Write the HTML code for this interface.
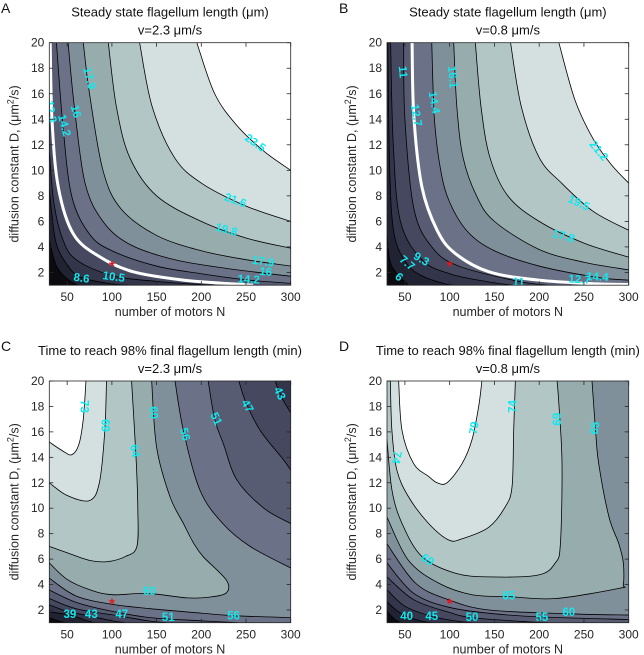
<!DOCTYPE html>
<html><head><meta charset="utf-8"><style>
html,body{margin:0;padding:0;background:#fff;}
svg{display:block;font-family:"Liberation Sans",Arial,sans-serif;}
</style></head><body>
<svg id="fig" width="644" height="655" viewBox="0 0 644 655"></svg>
<script>
// ---------- data ----------
const xTicks = [50,100,150,200,250,300];
const yTicks = [2,4,6,8,10,12,14,16,18,20];
const palette = ['#0b0b10','#212232','#33354a','#45485f','#575c73','#6b7288','#80909a','#97acad','#b2c6c6','#d4e0e0','#ffffff'];

const levelsA = [6.7,8.6,10.5,12.3,14.2,16,17.9,19.8,21.6,23.5];
const curvesA = [
 [[[30,4.5],[38,2.5],[50,1.5],[62,1]]],
 [[[30,8.5],[37,4.5],[50,2.6],[66,1.6],[100,1.1],[120,1]]],
 [[[30,11.5],[35,7.5],[45,4.6],[60,3],[100,1.75],[150,1.3],[200,1.05],[215,1]]],
 [[[31,20],[33,14],[40,8.7],[57,5],[87,3.2],[124,2.05],[180,1.4],[236,1.1],[258,1]]],
 [[[38,20],[45,13.7],[55,8],[75,5],[100,3.7],[150,2.5],[200,1.9],[253,1.4],[300,1.15]]],
 [[[51,20],[58,15],[70,9],[90,6],[120,4.2],[170,3],[230,2.3],[300,1.7]]],
 [[[68,20],[75,16],[90,10],[110,7],[150,4.9],[200,3.7],[250,3.0],[300,2.5]]],
 [[[96,20],[105,15],[120,11],[150,8],[200,6],[250,4.7],[300,3.9]]],
 [[[131,20],[145,15],[170,11],[200,9],[250,7.2],[300,6]]],
 [[[195,20],[215,16],[240,13.5],[270,11.5],[300,10]]]
];
const whiteA = 3;
const labelsA = [['8.6',66,1.5,8],['10.5',102,1.6,8],['12.3',31,14.6,80],['14.2',46,13.5,75],['16',59,14.6,75],['17.9',74,17.2,75],['23.5',260,12.1,35],['21.6',238,7.6,20],['19.8',228,5.3,15],['17.9',269,2.8,8],['16',272,2.0,5],['14.2',253,1.4,3]];

const levelsB = [6,7.7,9.3,11,12.7,14.4,16.1,17.8,19.5,21.2];
const curvesB = [
 [[[30,5],[33,3],[40,2],[54,1]]],
 [[[31,20],[33,10],[38,5],[52,2.7],[70,1.7],[95,1.1],[105,1]]],
 [[[34,20],[37,12],[45,6],[69,3],[100,1.9],[140,1.3],[170,1]]],
 [[[48.6,20],[50,14],[60,7],[80,4],[110,2.5],[177,1.3],[210,1]]],
 [[[58,20],[60,14.2],[69,8.7],[86,5.3],[106,3.5],[144,2.05],[199,1.4],[266,1.1],[300,1.05]]],
 [[[80,20],[83,14],[90,10],[100,7.5],[120,5.2],[150,3.7],[200,2.5],[266,1.6],[300,1.4]]],
 [[[104.5,20],[108,15],[115,11],[130,8],[150,6],[200,3.8],[250,2.8],[300,2.2]]],
 [[[128.7,20],[135,15],[145,11],[165,8],[200,6],[250,4.3],[300,3.2]]],
 [[[168,20],[180,15],[200,11],[225,9],[260,6.8],[300,5.3]]],
 [[[222,20],[240,15.5],[260,12.5],[280,10.5],[300,9]]]
];
const whiteB = 4;
const labelsB = [['6',43,1.6,40],['7.7',52,2.7,40],['9.3',68,3.0,30],['11',47,17.7,85],['11',177,1.2,3],['12.7',62,14.3,80],['12.7',245,1.4,3],['14.4',82,15.3,80],['14.4',265,1.6,3],['16.1',102.6,17.3,85],['17.8',227,4.8,15],['19.5',244,7.4,25],['21.2',266,11.5,50]];

const levelsC = [35,39,43,47,51,56,60,64,69,73];
const curvesC = [
 [[[30,1.4],[40,1.15],[48,1]]],
 [[[30,1.85],[53,1.6],[70,1.2],[80,1]]],
 [[[30,2.4],[50,1.9],[77,1.5],[100,1.15],[115,1]],[[300,17.5],[290,18.7],[282.5,20]]],
 [[[30,2.9],[60,2.1],[111,1.5],[140,1.15],[160,1]],[[300,13],[292,13.8],[266,16.1],[250,18.3],[242,20]]],
 [[[30,3.57],[60,2.6],[100,1.9],[143,1.4],[200,1.15],[240,1]],[[300,8.8],[270,10],[240,12.2],[225,15],[215,17],[207.7,20]]],
 [[[30,4.5],[60,3.1],[100,2.45],[143,2.1],[200,1.75],[236,1.55],[300,1.4]],[[300,5.3],[254.5,7],[224,8.8],[198.6,11.4],[180,16.1],[170.6,20]]],
 [[[30,5.7],[50,4.4],[75,3.6],[100,3.2],[140,3.3],[184,2.95],[208,3.0],[228,3.35],[228,4.35],[202,6.2],[191,7.3],[180,8.8],[165,10.9],[150,14.8],[144.5,20]]],
 [[[30,7.0],[50,6.5],[75,5.9],[95,5.8],[115,6.2],[128,7],[129,10],[127,14],[122,20]]],
 [[[30,12],[50,11],[75,10.6],[86,12],[92,16],[94,20]]],
 [[[30,15.2],[45,14.5],[55,14.2],[63,15],[68,17],[71,20]]]
];
const labelsC = [['39',53,1.6,0],['43',77,1.6,0],['47',111,1.6,0],['51',163,1.35,0],['56',236,1.5,0],['60',142,3.4,0],['73',68,18,90],['69',92,16.5,90],['64',125,14.5,80],['60',146,17.5,85],['56',181,15.8,75],['51',216,17,65],['47',251,18,60],['43',287,19,65]];

const levelsD = [35,40,45,50,55,60,65,69,74,79];
const curvesD = [
 [[[30,1.9],[38,1.3],[45,1]]],
 [[[30,2.65],[40,2],[52,1.5],[70,1.1],[80,1]]],
 [[[30,3.6],[50,2.3],[80,1.5],[110,1.1],[125,1]]],
 [[[30,4.6],[60,2.8],[100,1.8],[125,1.4],[180,1.1],[210,1]]],
 [[[30,5.7],[60,3.3],[100,2.2],[150,1.7],[203,1.45],[300,1.25]]],
 [[[30,7.2],[62,4.1],[99,2.8],[144,2.0],[233,1.7],[300,1.6]]],
 [[[30,9.3],[54,5.9],[88,4.1],[125,3.2],[166,3.05],[218,2.9],[289,3.7],[294,4.0],[294,5.7],[289,7.2],[278,9.3],[266.5,13.5],[263,16.1],[259,20]]],
 [[[30,15.4],[35.6,11.4],[46.8,8.8],[69,6.2],[106,4.9],[144,4.6],[199,4.75],[218,5.7],[223.7,7.2],[225.5,13.5],[222,18.2],[220,20]]],
 [[[33.7,20],[35.5,16.1],[41,13],[54,10.9],[76.5,8.8],[99,7.5],[114,7.6],[143.6,8.5],[162,10.1],[169.7,11.7],[171.5,16.1],[173.4,20]]],
 [[[43,20],[46.8,16.1],[59.8,13.5],[76.5,12.5],[86,12],[97,12],[113.8,13.5],[125,15.4],[132.4,18],[136,20]]]
];
const labelsD = [['40',52,1.45,0],['45',80,1.45,0],['50',125,1.35,0],['55',203,1.35,0],['60',233,1.75,0],['65',166,3.05,0],['69',75,5.9,30],['74',40,14,100],['79',128,16.3,-80],['74',171.5,18,-90],['69',221,17,-90],['65',263,16.3,-80]];

// ---------- drawing ----------
const NS='http://www.w3.org/2000/svg';
const svg=document.getElementById('fig');
function mk(tag,attrs,parent){const e=document.createElementNS(NS,tag);for(const k in attrs)e.setAttribute(k,attrs[k]);(parent||svg).appendChild(e);return e;}

const N0=30,N1=300,D0=1,D1=20;
function tOf(p){const e=1e-6;
 if(Math.abs(p[1]-D0)<e) return (p[0]-N0)/(N1-N0);
 if(Math.abs(p[0]-N1)<e) return 1+(p[1]-D0)/(D1-D0);
 if(Math.abs(p[1]-D1)<e) return 2+(N1-p[0])/(N1-N0);
 return 3+(D1-p[1])/(D1-D0);}
const cornerPts={1:[N1,D0],2:[N1,D1],3:[N0,D1],0:[N0,D0]};
function walk(a,b){if(b<a)b+=4;const out=[];for(let c=1;c<8;c++){if(c>a&&c<b)out.push(cornerPts[c%4]);}return out;}

// Catmull-Rom smoothed path commands for screen points (excluding initial move)
function smoothCmds(P){
 let s='';
 for(let i=0;i<P.length-1;i++){
  const p0=P[Math.max(0,i-1)],p1=P[i],p2=P[i+1],p3=P[Math.min(P.length-1,i+2)];
  const c1=[p1[0]+(p2[0]-p0[0])/6,p1[1]+(p2[1]-p0[1])/6];
  const c2=[p2[0]-(p3[0]-p1[0])/6,p2[1]-(p3[1]-p1[1])/6];
  s+=' C'+c1[0].toFixed(2)+','+c1[1].toFixed(2)+' '+c2[0].toFixed(2)+','+c2[1].toFixed(2)+' '+p2[0].toFixed(2)+','+p2[1].toFixed(2);
 }
 return s;
}

function drawPanel(cfg){
 const {x0,y0,w,h,curves,levels,labels,white,id}=cfg;
 const sx=n=>x0+(n-N0)/(N1-N0)*w;
 const sy=d=>y0+h-(d-D0)/(D1-D0)*h;
 const scr=p=>[sx(p[0]),sy(p[1])];
 const g=mk('g',{});
 
 
 const cp=mk('clipPath',{id:'clip-'+id},g);
 mk('rect',{x:x0,y:y0,width:w,height:h},cp);
 const fillG=mk('g',{'clip-path':'url(#clip-'+id+')'},g);
 const bg=mk('rect',{x:x0,y:y0,width:w,height:h,fill:palette[0]},fillG);
 
 
 curves.forEach((segs,i)=>{
  let d='';
  segs.forEach((s,j)=>{
   const P=s.map(scr);
   d+=(j===0?'M':' L')+P[0][0].toFixed(2)+','+P[0][1].toFixed(2)+smoothCmds(P);
   const nx=segs[(j+1)%segs.length];
   walk(tOf(s[s.length-1]),tOf(nx[0])).forEach(c=>{const q=scr(c);d+=' L'+q[0].toFixed(2)+','+q[1].toFixed(2);});
  });
  d+=' Z';
  const poly=mk('path',{d:d,fill:palette[i+1]},fillG);
  
  
 });
 curves.forEach((segs,i)=>{
  segs.forEach(s=>{
   const isW=(i===white);
   const P=s.map(scr);
   const pl=mk('path',{d:'M'+P[0][0].toFixed(2)+','+P[0][1].toFixed(2)+smoothCmds(P),fill:'none',stroke:isW?'#fff':'#000','stroke-width':isW?3:0.8,'stroke-linejoin':'round'},fillG);
   
   
  });
 });
 labels.forEach(l=>{
  const X=sx(l[1]),Y=sy(l[2]);
  const t=mk('text',{x:X,y:Y,'font-size':11.5,'font-weight':'bold',fill:'#11e8ee','text-anchor':'middle','dominant-baseline':'central',transform:'rotate('+l[3]+' '+X+' '+Y+')'},fillG);
  t.textContent=l[0];
  
  
 });
 const st=mk('text',{x:sx(100),y:sy(2.5)+5,'font-size':15,'font-weight':'bold',fill:'#e8141a','text-anchor':'middle'},g);
 st.textContent='*';
 
 
 const fr=mk('rect',{x:x0,y:y0,width:w,height:h,fill:'none',stroke:'#262626','stroke-width':0.8},g);
 
 
 xTicks.forEach(v=>{
  const X=sx(v);
  mk('line',{x1:X,y1:y0+h,x2:X,y2:y0+h-4,stroke:'#262626','stroke-width':0.8},g);
  mk('line',{x1:X,y1:y0,x2:X,y2:y0+4,stroke:'#262626','stroke-width':0.8},g);
  const t=mk('text',{x:X,y:y0+h+16,'font-size':12,fill:'#262626','text-anchor':'middle'},g);
  t.textContent=v;
  
  
 });
 yTicks.forEach(v=>{
  const Y=sy(v);
  mk('line',{x1:x0,y1:Y,x2:x0+4,y2:Y,stroke:'#262626','stroke-width':0.8},g);
  mk('line',{x1:x0+w,y1:Y,x2:x0+w-4,y2:Y,stroke:'#262626','stroke-width':0.8},g);
  const t=mk('text',{x:x0-5,y:Y+4,'font-size':12,fill:'#262626','text-anchor':'end'},g);
  t.textContent=v;
  
  
 });
 const xl=mk('text',{x:x0+w/2,y:y0+h+31,'font-size':12.5,fill:'#262626','text-anchor':'middle'},g);
 xl.textContent='number of motors N';
 
 
 const yc=y0+h/2,yx=x0-31;
 const yl=mk('text',{x:yx,y:yc,'font-size':12.5,fill:'#262626','text-anchor':'middle',transform:'rotate(-90 '+yx+' '+yc+')'},g);
 yl.innerHTML='diffusion constant D, (\u03bcm<tspan dy="-5" font-size="9">2</tspan><tspan dy="5">/s)</tspan>';
 
 
 const t1=mk('text',{x:x0+w/2,y:y0-26,'font-size':13,fill:'#111','text-anchor':'middle'},g);
 t1.textContent=cfg.title;
 
 
 const t2=mk('text',{x:x0+w/2,y:y0-8,'font-size':13,fill:'#111','text-anchor':'middle'},g);
 t2.textContent=cfg.sub;
 
 
 const pl=mk('text',{x:cfg.lx,y:cfg.ly,'font-size':14,fill:'#111'},g);
 pl.textContent=cfg.letter;
 
 
}
drawPanel({id:'a',x0:49.3,y0:42.7,w:241.4,h:242.5,curves:curvesA,levels:levelsA,labels:labelsA,white:whiteA,title:'Steady state flagellum length (\u03bcm)',sub:'v=2.3 \u03bcm/s',letter:'A',lx:1,ly:13});
drawPanel({id:'b',x0:387,y0:42.7,w:241.7,h:242.5,curves:curvesB,levels:levelsB,labels:labelsB,white:whiteB,title:'Steady state flagellum length (\u03bcm)',sub:'v=0.8 \u03bcm/s',letter:'B',lx:339,ly:13});
drawPanel({id:'c',x0:49.3,y0:381,w:241.4,h:241.7,curves:curvesC,levels:levelsC,labels:labelsC,white:-1,title:'Time to reach 98% final flagellum length (min)',sub:'v=2.3 \u03bcm/s',letter:'C',lx:1,ly:351});
drawPanel({id:'d',x0:387,y0:381,w:241.7,h:241.7,curves:curvesD,levels:levelsD,labels:labelsD,white:-1,title:'Time to reach 98% final flagellum length (min)',sub:'v=0.8 \u03bcm/s',letter:'D',lx:339,ly:351});
</script>
</body></html>
